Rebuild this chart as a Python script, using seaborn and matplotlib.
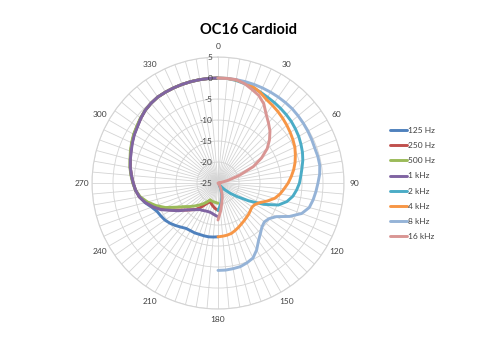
import numpy as np
import pandas as pd
import matplotlib
matplotlib.use("Agg")
import matplotlib.pyplot as plt
import seaborn as sns
from matplotlib.transforms import offset_copy

# ---------------- data ----------------
angles_right = list(range(0, 181, 5))     # 0..180 deg
angles_left = list(range(180, 361, 5))    # 180..360 deg

hz125 = [-12.2, -12.1, -12.0, -12.0, -12.0, -11.9, -11.9, -11.8, -11.3, -10.7, -10.1, -9.6, -9.3,
         -9.0, -8.2, -7.0, -6.0, -5.3, -4.8, -4.3, -3.8, -3.4, -2.9, -2.4, -1.9, -1.5, -1.0, -0.5,
         -0.2, 0, 0, 0, 0, 0, 0, 0, 0]
hz250 = [-18.5, -18.8, -19.2, -19.6, -20.0, -20.0, -19.2, -18.0, -16.8, -16.0, -15.0, -13.8, -12.2,
         -10.3, -8.5, -7.2, -6.0, -5.3, -4.8, -4.3, -3.8, -3.4, -2.9, -2.4, -1.9, -1.5, -1.0, -0.5,
         -0.2, 0, 0, 0, 0, 0, 0, 0, 0]
hz500 = [-20.2, -20.3, -20.4, -20.4, -20.5, -20.6, -19.8, -19.0, -18.2, -17.3, -16.3, -15.2, -13.5,
         -11.2, -9.3, -7.6, -6.2, -5.3, -4.7, -4.2, -3.7, -3.3, -2.8, -2.3, -1.8, -1.4, -0.9, -0.5,
         -0.2, 0, 0, 0, 0, 0, 0, 0, 0]
hz1k = [-17.0, -17.3, -17.6, -17.8, -17.8, -17.7, -17.5, -17.3, -16.7, -16.0, -15.0, -13.5, -12.0,
        -10.0, -8.5, -7.1, -6.0, -5.3, -4.8, -4.3, -3.8, -3.4, -3.0, -2.5, -2.0, -1.6, -1.0, -0.5,
        -0.2, 0, 0, 0, 0, 0, 0, 0, 0]
hz2k = [0, 0, -0.2, -0.5, -0.8, -1.1, -1.4, -1.6, -1.8, -2.0, -2.2, -2.5, -2.8, -3.2, -3.6, -4.1,
        -4.7, -5.2, -5.6, -6.2, -6.9, -8.0, -9.7, -13.0, -16.5, -19.3, -21.2, -22.8, -24.0, -24.5,
        -24.2, -23.5, -22.5, -21.5, -20.5, -19.5, -18.5]
hz4k = [0, 0, -0.1, -0.3, -0.6, -1.2, -2.0, -2.4, -2.8, -3.2, -3.6, -4.0, -4.4, -4.8, -5.4, -6.0,
        -6.7, -7.5, -8.3, -9.2, -10.0, -11.0, -12.5, -14.0, -14.8, -15.1, -14.9, -14.6, -14.4, -14.1,
        -13.8, -13.4, -13.0, -12.6, -12.4, -12.3, -12.2]
hz8k = [0, 0, 0, 0, 0, 0, 0, 0, 0, 0, -0.1, -0.2, -0.3, -0.4, -0.5, -0.4, -0.4, -0.7, -1.2, -1.6,
        -2.0, -2.5, -3.8, -6.2, -9.0, -10.2, -10.6, -10.2, -9.3, -8.2, -6.6, -5.3, -4.8, -4.4, -4.3,
        -4.2, -4.2]
hz16k = [0, 0, 0, -0.5, -1.3, -2.0, -3.2, -5.0, -6.3, -7.5, -9.0, -10.7, -13.0, -15.7, -19.5, -22.5,
         -24.3, -24.8, -24.5, -24.5, -24.8, -25, -25, -25, -25, -25, -25, -25, -24.8, -24.5, -24.0,
         -23.2, -22.2, -21.2, -20.0, -18.2, -16.2]

series_names = ["125 Hz", "250 Hz", "500 Hz", "1 kHz", "2 kHz", "4 kHz", "8 kHz", "16 kHz"]
series_values = [hz125, hz250, hz500, hz1k, hz2k, hz4k, hz8k, hz16k]
series_angles = [angles_left] * 4 + [angles_right] * 4
colors = ["#4F81BD", "#C0504D", "#9BBB59", "#8064A2", "#4BACC6", "#F79646", "#95B3D7", "#D99694"]

radial_ticks = [-25, -20, -15, -10, -5, 0, 5]
angle_labels = list(range(0, 360, 30))

rows = []
for name, ang, vals in zip(series_names, series_angles, series_values):
    for a, v in zip(ang, vals):
        rows.append({"theta": np.deg2rad(a), "r": v, "series": name})
df = pd.DataFrame(rows)

# ---------------- figure ----------------
sns.set_style("white")
plt.rcParams["font.family"] = ["Lato", "DejaVu Sans"]

fig = plt.figure(figsize=(5, 3.5), dpi=100)
ax = fig.add_axes([0.184, 0.117, 0.504, 0.72], projection="polar")
ax.set_theta_zero_location("N")
ax.set_theta_direction(-1)

sns.lineplot(data=df, x="theta", y="r", hue="series", hue_order=series_names,
             palette=colors, sort=False, estimator=None, lw=2.1, ax=ax)

ax.set_ylim(-25, 5)
ax.set_xlabel("")
ax.set_ylabel("")

spoke_deg = np.arange(0, 360, 5)
ax.set_xticks(np.deg2rad(spoke_deg))
ax.set_xticklabels([str(a) if a in angle_labels else "" for a in spoke_deg])
ax.set_yticks(radial_ticks)
ax.set_yticklabels([])
ax.grid(True, color="#D4D4D4", lw=0.6)
ax.spines["polar"].set_color("#D4D4D4")
ax.spines["polar"].set_linewidth(0.8)
ax.tick_params(axis="x", labelsize=6, colors="#404040", pad=-3)
ax.set_axisbelow(True)

tr = offset_copy(ax.transData, fig=fig, x=-4, y=0, units="points")
for v in radial_ticks:
    ax.text(0, v, str(v), transform=tr, ha="right", va="center", fontsize=6, color="#404040")

handles, labels = ax.get_legend_handles_labels()
if ax.get_legend() is not None:
    ax.get_legend().remove()
leg = fig.legend(handles, labels, loc="upper left", bbox_to_anchor=(0.78, 1 - 127 / 350),
                 frameon=False, fontsize=6, handlelength=2.0, handletextpad=0.2,
                 labelspacing=0.98, borderpad=0, borderaxespad=0)
for t in leg.get_texts():
    t.set_color("#404040")

fig.text(0.496, 1 - 30 / 350, "OC16 Cardioid", ha="center", va="center",
         fontsize=10.5, fontweight="bold", color="#000000")

fig.savefig("out.png", dpi=100, facecolor="white")
